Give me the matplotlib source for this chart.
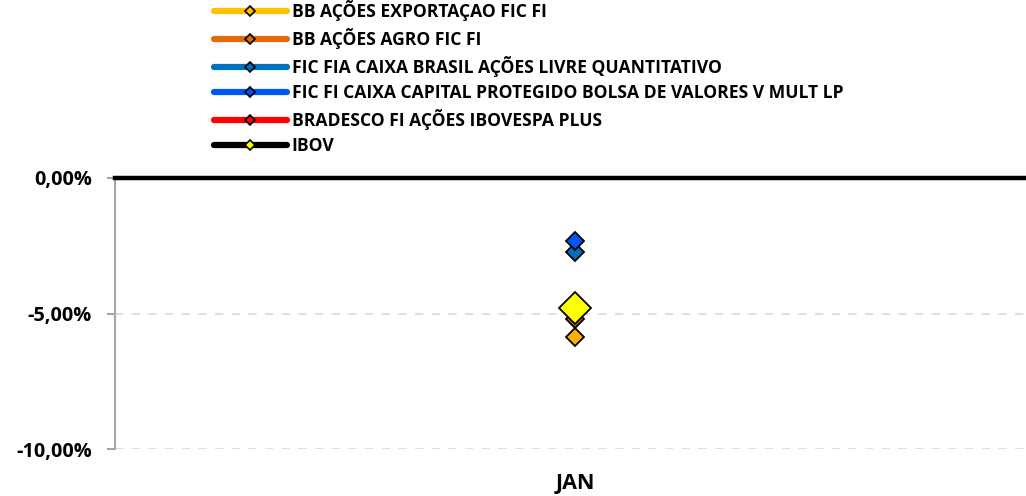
import matplotlib
matplotlib.use("Agg")
import matplotlib.pyplot as plt
from matplotlib.lines import Line2D
from matplotlib.ticker import FuncFormatter

categories = ["JAN"]
series_names = [
    "BB AÇÕES EXPORTAÇAO FIC FI",
    "BB AÇÕES AGRO FIC FI",
    "FIC FIA CAIXA BRASIL AÇÕES LIVRE QUANTITATIVO",
    "FIC FI CAIXA CAPITAL PROTEGIDO BOLSA DE VALORES V MULT LP",
    "BRADESCO FI AÇÕES IBOVESPA PLUS",
    "IBOV",
]
series_values = [
    [-5.85],
    [-5.20],
    [-2.74],
    [-2.33],
    [-4.90],
    [-4.78],
]
line_colors = ["#FFC000", "#E36C09", "#0070C0", "#0055F5", "#FF0000", "#000000"]
marker_colors = ["#FFB000", "#E36C09", "#0070C0", "#0055F5", "#FF0000", "#FFFF00"]
yticks = [0, -5, -10]

plt.rcParams['font.family'] = ['Open Sans', 'DejaVu Sans']
fig = plt.figure(figsize=(10.26, 4.96), dpi=100)
ax = fig.add_axes([115/1026, 1-449/496, (1035-115)/1026, (449-178)/496])

x = list(range(len(categories)))
for i, (name, vals) in enumerate(zip(series_names, series_values)):
    big = name == "IBOV"
    ax.plot(x, vals, linestyle='-', color=line_colors[i], lw=3,
            marker='D', markersize=16 if big else 9,
            markerfacecolor=marker_colors[i], markeredgecolor='black',
            markeredgewidth=1.3, zorder=5 + (2 if big else 0) - (1 if i == 4 else 0),
            clip_on=False)

ax.set_xlim(-0.5, len(categories) - 0.5)
ax.set_ylim(-10, 0)
ax.set_yticks(yticks)
ax.yaxis.set_major_formatter(FuncFormatter(lambda v, p: f"{v:.2f}%".replace('.', ',')))
ax.set_xticks(x)
ax.set_xticklabels(categories)
ax.tick_params(axis='x', length=0, pad=17, labelsize=15.5)
ax.tick_params(axis='y', length=6, width=1.3, color='#999999', pad=10.5, labelsize=14.3)
for lab in ax.get_xticklabels() + ax.get_yticklabels():
    lab.set_fontweight('bold')

ax.grid(axis='y', color='#D9D9D9', linestyle=(0, (5, 5)), lw=1.2)
ax.set_axisbelow(True)
ax.spines['right'].set_visible(False)
ax.spines['bottom'].set_visible(False)
ax.spines['left'].set_color('#A6A6A6')
ax.spines['left'].set_linewidth(1.5)
ax.spines['top'].set_color('black')
ax.spines['top'].set_linewidth(3.2)
ax.spines['top'].set_zorder(3)

handles = []
for i, name in enumerate(series_names):
    handles.append(Line2D([0], [0], color=line_colors[i], lw=4.5, solid_capstyle='round',
                          marker='D', markersize=5.5,
                          markerfacecolor=marker_colors[i] if name == "IBOV" else line_colors[i],
                          markeredgecolor='black', markeredgewidth=1.2))
leg = fig.legend(handles, series_names, loc='upper left',
                 bbox_to_anchor=(214/1026, 1.0), frameon=False,
                 prop={'weight': 'bold', 'size': 12.6},
                 handlelength=4.15, handletextpad=0.28, labelspacing=0.40,
                 borderpad=0, borderaxespad=0)

fig.savefig("out.png", dpi=100)
